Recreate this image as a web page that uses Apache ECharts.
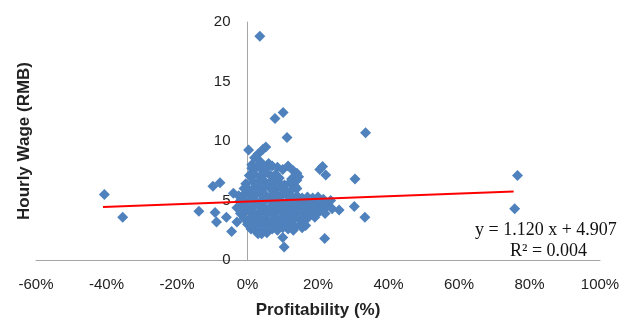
<!DOCTYPE html>
<html>
<head>
<meta charset="utf-8">
<script src="https://cdn.jsdelivr.net/npm/echarts@6/dist/echarts.min.js"></script>
<style>
  html, body { margin: 0; padding: 0; background: #fff; }
  #echarts_main { width: 629px; height: 322px; }
</style>
</head>
<body>
<div id="echarts_main"></div>
<script>
// profitability (share) vs hourly wage (RMB)
const outliers = [
    [0.035, 18.8], [0.078, 11.9], [0.101, 12.4], [0.112, 10.3], [0.335, 10.7],
    [0.003, 9.25], [0.205, 7.6], [0.213, 7.85], [0.222, 7.15], [0.305, 6.8],
    [0.303, 4.5], [0.333, 3.6], [0.26, 4.2], [0.219, 1.8], [0.10, 1.9],
    [0.104, 1.1], [-0.045, 2.4], [-0.406, 5.5], [-0.354, 3.6], [-0.138, 4.1],
    [-0.098, 6.2], [-0.078, 6.5], [-0.092, 4.0], [-0.088, 3.2], [-0.06, 3.6],
    [-0.04, 5.6], [-0.03, 3.2], [0.766, 7.1], [0.758, 4.3]
]

const cluster = [
    [0.02, 8.6], [0.03, 8.9], [0.044, 9.3], [0.052, 9.5], [0.035, 8.3], [0.012, 8.0], [0.06, 8.1], [0.047, 7.9],
    [0.012, 7.7], [0.025, 7.8], [0.04, 7.6], [0.055, 7.7], [0.07, 7.9], [0.085, 7.8], [0.1, 7.6], [0.115, 7.9],
    [0.13, 7.5], [0.14, 7.3], [0.145, 7.0], [0.14, 6.7],
    [0.005, 7.1], [0.02, 7.2], [0.035, 7.0], [0.05, 7.3], [0.065, 7.1], [0.08, 7.2], [0.09, 6.9], [0.125, 6.8],
    [-0.005, 6.4], [0.015, 6.6], [0.03, 6.5], [0.045, 6.7], [0.06, 6.4], [0.075, 6.6], [0.09, 6.5], [0.105, 6.3],
    [0.12, 6.5], [0.135, 6.2],
    [-0.01, 6.0], [0.005, 5.9], [0.02, 6.1], [0.035, 5.9], [0.05, 6.2], [0.065, 6.0], [0.08, 5.9], [0.095, 6.1],
    [0.11, 5.8], [0.125, 5.9], [0.14, 6.0],
    [-0.025, 5.4], [-0.01, 5.5], [0.005, 5.6], [0.02, 5.4], [0.035, 5.6], [0.05, 5.5], [0.065, 5.3], [0.08, 5.6],
    [0.095, 5.4], [0.11, 5.5], [0.125, 5.3], [0.14, 5.4], [0.155, 5.2], [0.17, 5.3], [0.185, 5.2], [0.2, 5.3],
    [0.215, 5.1],
    [-0.02, 5.0], [-0.005, 4.9], [0.01, 5.1], [0.025, 4.9], [0.04, 5.0], [0.055, 5.1], [0.07, 4.9], [0.085, 5.0],
    [0.1, 4.8], [0.115, 5.0], [0.13, 4.9], [0.145, 5.1], [0.16, 4.9], [0.175, 5.0], [0.19, 4.8], [0.205, 5.0],
    [0.22, 4.9], [0.236, 5.0],
    [-0.03, 4.4], [-0.015, 4.6], [0.0, 4.5], [0.015, 4.4], [0.03, 4.6], [0.045, 4.5], [0.06, 4.3], [0.075, 4.6],
    [0.09, 4.4], [0.105, 4.5], [0.12, 4.3], [0.135, 4.6], [0.15, 4.4], [0.165, 4.5], [0.18, 4.3], [0.195, 4.6],
    [0.21, 4.4], [0.225, 4.5], [0.24, 4.3],
    [-0.02, 3.9], [-0.005, 4.1], [0.01, 4.0], [0.025, 3.8], [0.04, 4.1], [0.055, 3.9], [0.07, 4.0], [0.085, 4.2],
    [0.1, 3.9], [0.115, 4.0], [0.13, 3.8], [0.145, 4.1], [0.16, 3.9], [0.175, 4.0], [0.19, 3.8], [0.205, 4.1],
    [0.22, 3.9],
    [-0.01, 3.5], [0.005, 3.4], [0.02, 3.6], [0.035, 3.4], [0.05, 3.5], [0.065, 3.3], [0.08, 3.6], [0.095, 3.4],
    [0.11, 3.5], [0.125, 3.3], [0.14, 3.6], [0.155, 3.4], [0.17, 3.5], [0.191, 3.6],
    [0.0, 3.0], [0.015, 2.9], [0.03, 3.1], [0.045, 2.9], [0.06, 3.0], [0.075, 2.8], [0.09, 3.1], [0.105, 2.9],
    [0.12, 3.0], [0.135, 2.8], [0.15, 3.0], [0.165, 2.9],
    [0.01, 2.6], [0.025, 2.4], [0.04, 2.5], [0.055, 2.3], [0.07, 2.6], [0.085, 2.5], [0.1, 2.7], [0.115, 2.6],
    [0.13, 2.5], [0.155, 2.7], [0.04, 2.2], [0.03, 2.2]
]

// trendline end points
const trend = [[-0.41, 4.45], [0.755, 5.75]]

const xTicks = { min: -0.6, max: 1.0, interval: 0.2 }
const yTicks = { min: 0, max: 20, interval: 5 }

const eqLines = ['y = 1.120 x + 4.907', 'R² = 0.004']

const chart = echarts.init(document.getElementById('echarts_main'))

const labelStyle = { fontFamily: 'Liberation Sans', fontSize: 15, color: '#222' }
const titleStyle = { fontFamily: 'Liberation Sans', fontSize: 17, fontWeight: 'bold', color: '#222' }

// y axis sits at x = 0%, i.e. 60/160 of the plot width from the left edge
const plotLeft = 36, plotWidth = 629 - 36 - 29
const yAxisShift = plotWidth * 0.6 / 1.6

chart.setOption({
    animation: false,
    grid: { left: plotLeft, right: 29, top: 22, bottom: 62, containLabel: false, outerBoundsMode: 'none' },
    xAxis: {
        type: 'value',
        min: xTicks.min,
        max: xTicks.max,
        interval: xTicks.interval,
        name: 'Profitability (%)',
        nameLocation: 'middle',
        nameGap: 42,
        nameTextStyle: titleStyle,
        axisLine: { lineStyle: { color: '#a6a6a6', width: 1 } },
        axisTick: { show: false },
        splitLine: { show: false },
        axisLabel: Object.assign({
            margin: 17,
            formatter: v => Math.round(v * 100) + '%'
        }, labelStyle)
    },
    yAxis: {
        type: 'value',
        min: yTicks.min,
        max: yTicks.max,
        interval: yTicks.interval,
        offset: -yAxisShift,
        name: 'Hourly Wage (RMB)',
        nameLocation: 'middle',
        nameRotate: 90,
        nameGap: 215,
        nameTextStyle: titleStyle,
        axisLine: { onZero: false, lineStyle: { color: '#a6a6a6', width: 1 } },
        axisTick: { show: false },
        splitLine: { show: false },
        axisLabel: Object.assign({ margin: 17 }, labelStyle)
    },
    series: [
        {
            type: 'scatter',
            symbol: 'diamond',
            symbolSize: 11,
            itemStyle: { color: '#4f81bd', opacity: 1 },
            data: outliers.concat(cluster)
        },
        {
            type: 'line',
            data: trend,
            symbol: 'none',
            lineStyle: { color: '#ff0000', width: 2 },
            z: 5
        }
    ],
    graphic: [
        {
            type: 'text', left: 475, top: 221,
            style: { text: eqLines[0], font: '18px "Liberation Serif"', fill: '#111' }
        },
        {
            type: 'text', left: 510, top: 242,
            style: { text: eqLines[1], font: '18px "Liberation Serif"', fill: '#111' }
        }
    ]
})
</script>
</body>
</html>
